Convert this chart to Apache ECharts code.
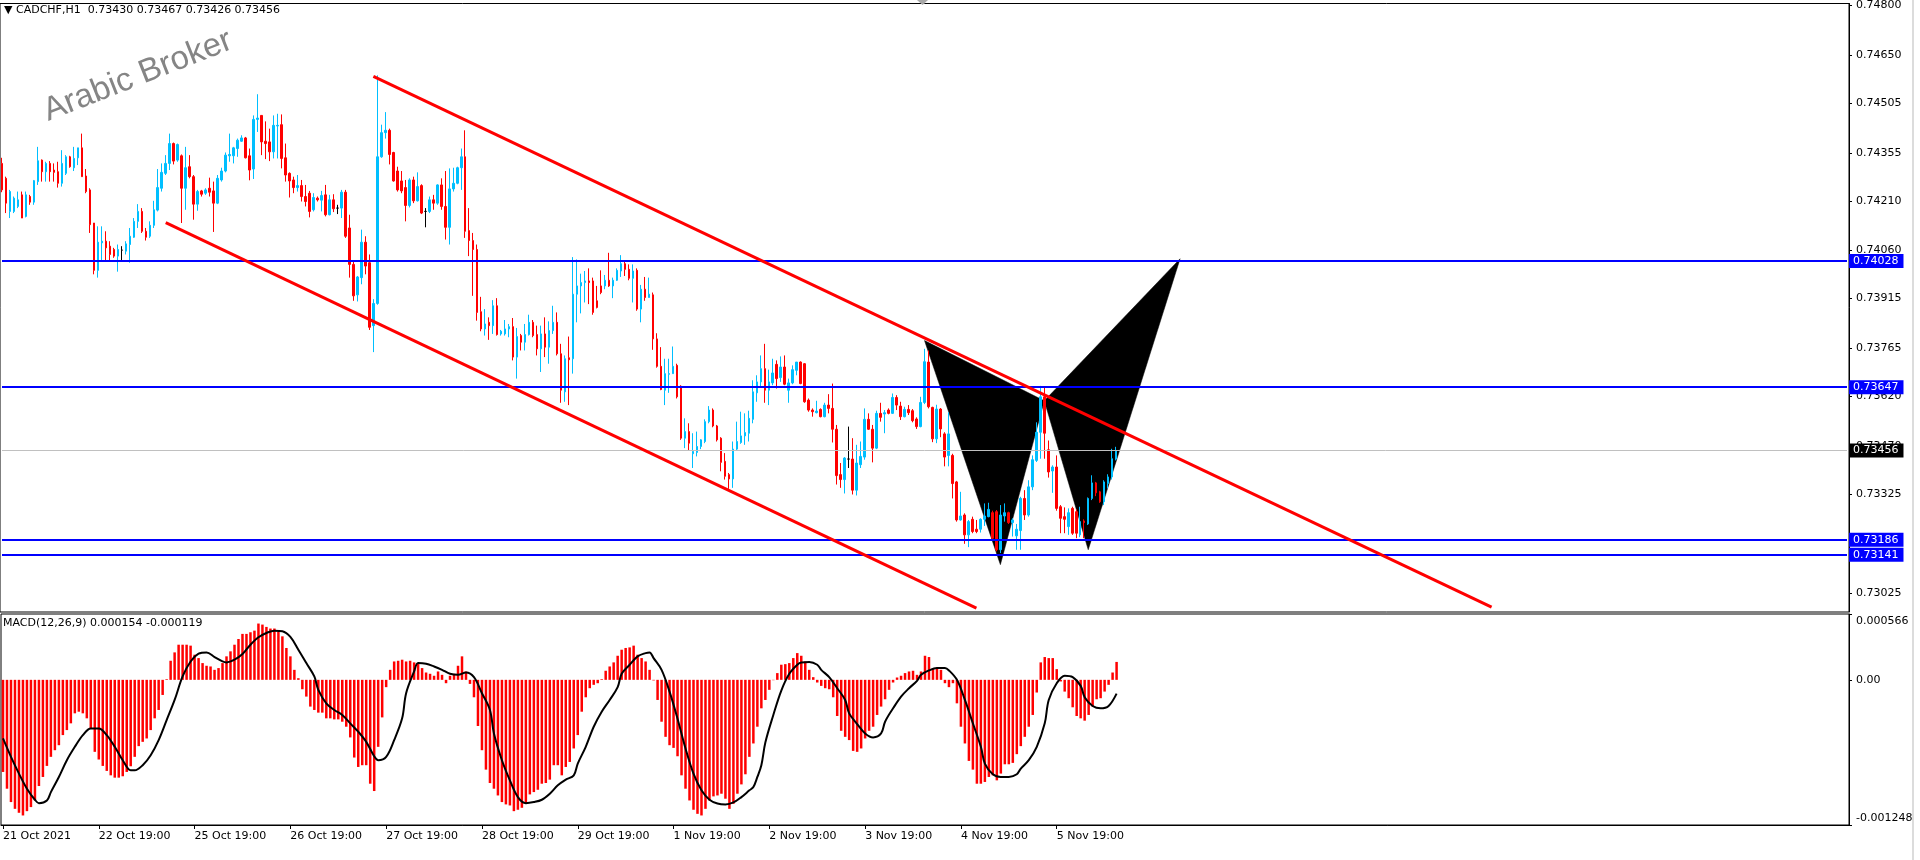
<!DOCTYPE html>
<html><head><meta charset="utf-8">
<script src="https://cdn.jsdelivr.net/npm/echarts@6/dist/echarts.min.js"></script>
<style>html,body{margin:0;padding:0;background:#fff;overflow:hidden}#c{width:1920px;height:860px}</style>
</head><body><div id="c"></div>
<script>
const symbol = 'CADCHF,H1';
const open = [
0.74323,0.74278,0.74178,0.74178,0.74193,0.74228,0.74163,0.74223,0.74206,0.74268,
0.74333,0.74298,0.74323,0.74303,0.74298,0.74263,0.74293,0.74343,0.74310,0.74340,
0.74370,0.74285,0.74243,0.74143,0.74000,0.74083,0.74088,0.74073,0.74063,0.74043,
0.74061,0.74058,0.74078,0.74100,0.74148,0.74178,0.74118,0.74103,0.74136,0.74182,
0.74248,0.74293,0.74323,0.74383,0.74333,0.74346,0.74248,0.74313,0.74283,0.74200,
0.74240,0.74233,0.74248,0.74240,0.74203,0.74273,0.74300,0.74346,0.74346,0.74368,
0.74390,0.74400,0.74346,0.74306,0.74456,0.74468,0.74390,0.74388,0.74358,0.74436,
0.74440,0.74340,0.74293,0.74273,0.74250,0.74256,0.74223,0.74233,0.74183,0.74218,
0.74212,0.74228,0.74168,0.74213,0.74188,0.74188,0.74236,0.74128,0.74018,0.73926,
0.73978,0.74085,0.74023,0.73833,0.73900,0.74343,0.74416,0.74423,0.74356,0.74300,
0.74270,0.74250,0.74196,0.74273,0.74210,0.74256,0.74178,0.74178,0.74213,0.74203,
0.74258,0.74193,0.74130,0.74246,0.74263,0.74310,0.74343,0.74120,0.74090,0.74063,
0.73875,0.73823,0.73843,0.73833,0.73893,0.73808,0.73808,0.73823,0.73830,0.73738,
0.73803,0.73783,0.73806,0.73843,0.73806,0.73763,0.73808,0.73768,0.73818,0.73843,
0.73748,0.73633,0.73736,0.73733,0.73928,0.73953,0.73963,0.73968,0.73968,0.73908,
0.73953,0.73953,0.73970,0.73953,0.73970,0.73998,0.74020,0.74003,0.73976,0.74000,
0.73883,0.73943,0.73918,0.73926,0.73793,0.73710,0.73638,0.73686,0.73688,0.73713,
0.73650,0.73493,0.73513,0.73446,0.73450,0.73468,0.73483,0.73543,0.73578,0.73530,
0.73493,0.73423,0.73383,0.73370,0.73460,0.73480,0.73500,0.73508,0.73550,0.73630,
0.73663,0.73703,0.73638,0.73660,0.73716,0.73676,0.73708,0.73638,0.73660,0.73698,
0.73723,0.73718,0.73608,0.73578,0.73570,0.73580,0.73558,0.73593,0.73583,0.73520,
0.73383,0.73368,0.73430,0.73430,0.73336,0.73413,0.73436,0.73550,0.73520,0.73463,
0.73568,0.73566,0.73578,0.73568,0.73616,0.73590,0.73558,0.73580,0.73576,0.73551,
0.73528,0.73601,0.73723,0.73586,0.73491,0.73581,0.73506,0.73441,0.73441,0.73361,
0.73246,0.73261,0.73201,0.73248,0.73218,0.73218,0.73248,0.73256,0.73268,0.73271,
0.73156,0.73258,0.73268,0.73238,0.73198,0.73214,0.73311,0.73261,0.73346,0.73426,
0.73511,0.73618,0.73458,0.73394,0.73406,0.73286,0.73256,0.73226,0.73281,0.73271,
0.73201,0.73243,0.73234,0.73311,0.73358,0.73331,0.73301,0.73356,0.73376,0.73430
];
const high = [
0.74340,0.74283,0.74243,0.74223,0.74238,0.74238,0.74238,0.74228,0.74273,0.74373,
0.74335,0.74328,0.74330,0.74323,0.74328,0.74363,0.74348,0.74346,0.74373,0.74370,
0.74413,0.74306,0.74248,0.74143,0.74133,0.74133,0.74118,0.74088,0.74068,0.74078,
0.74073,0.74088,0.74128,0.74158,0.74200,0.74188,0.74128,0.74148,0.74210,0.74306,
0.74323,0.74348,0.74413,0.74386,0.74383,0.74350,0.74373,0.74348,0.74288,0.74243,
0.74243,0.74248,0.74280,0.74268,0.74288,0.74310,0.74356,0.74413,0.74373,0.74398,
0.74408,0.74403,0.74368,0.74468,0.74532,0.74468,0.74450,0.74428,0.74468,0.74473,
0.74471,0.74383,0.74296,0.74283,0.74288,0.74273,0.74258,0.74240,0.74233,0.74223,
0.74240,0.74258,0.74228,0.74230,0.74198,0.74243,0.74243,0.74168,0.74028,0.73983,
0.74123,0.74103,0.74048,0.73913,0.74589,0.74440,0.74478,0.74428,0.74358,0.74313,
0.74300,0.74273,0.74278,0.74283,0.74296,0.74260,0.74188,0.74223,0.74228,0.74260,
0.74278,0.74300,0.74308,0.74310,0.74313,0.74368,0.74423,0.74188,0.74113,0.74078,
0.73920,0.73883,0.73858,0.73910,0.73916,0.73820,0.73850,0.73838,0.73856,0.73826,
0.73808,0.73838,0.73866,0.73850,0.73833,0.73833,0.73858,0.73846,0.73893,0.73873,
0.73778,0.73743,0.73800,0.74040,0.74033,0.73990,0.73998,0.74006,0.73978,0.73953,
0.74000,0.73986,0.74053,0.73978,0.74006,0.74046,0.74028,0.74018,0.74018,0.74006,
0.73956,0.73980,0.73978,0.73933,0.73810,0.73768,0.73733,0.73733,0.73770,0.73718,
0.73653,0.73553,0.73538,0.73508,0.73513,0.73490,0.73550,0.73590,0.73583,0.73533,
0.73496,0.73448,0.73388,0.73483,0.73543,0.73573,0.73568,0.73576,0.73668,0.73683,
0.73743,0.73778,0.73700,0.73733,0.73728,0.73740,0.73743,0.73673,0.73713,0.73723,
0.73725,0.73720,0.73613,0.73583,0.73606,0.73583,0.73600,0.73626,0.73658,0.73533,
0.73418,0.73436,0.73528,0.73493,0.73473,0.73483,0.73583,0.73568,0.73533,0.73576,
0.73600,0.73578,0.73583,0.73628,0.73623,0.73603,0.73588,0.73593,0.73581,0.73556,
0.73618,0.73763,0.73758,0.73588,0.73594,0.73584,0.73511,0.73571,0.73446,0.73364,
0.73331,0.73266,0.73246,0.73256,0.73246,0.73251,0.73296,0.73298,0.73274,0.73276,
0.73291,0.73296,0.73271,0.73251,0.73234,0.73316,0.73336,0.73366,0.73441,0.73541,
0.73651,0.73646,0.73486,0.73411,0.73441,0.73291,0.73284,0.73281,0.73286,0.73278,
0.73286,0.73248,0.73314,0.73381,0.73361,0.73334,0.73366,0.73384,0.73461,0.73467
];
const low = [
0.74236,0.74173,0.74158,0.74173,0.74188,0.74158,0.74160,0.74198,0.74198,0.74258,
0.74268,0.74268,0.74268,0.74268,0.74250,0.74253,0.74288,0.74310,0.74300,0.74318,
0.74283,0.74233,0.74113,0.73988,0.73978,0.74028,0.74028,0.74028,0.74038,0.73996,
0.74028,0.74048,0.74023,0.74098,0.74128,0.74113,0.74090,0.74098,0.74128,0.74178,
0.74238,0.74288,0.74303,0.74320,0.74328,0.74143,0.74183,0.74278,0.74153,0.74180,
0.74223,0.74228,0.74223,0.74116,0.74200,0.74268,0.74296,0.74328,0.74323,0.74343,
0.74388,0.74338,0.74272,0.74276,0.74418,0.74348,0.74336,0.74330,0.74338,0.74338,
0.74308,0.74268,0.74220,0.74233,0.74238,0.74208,0.74193,0.74160,0.74178,0.74208,
0.74178,0.74163,0.74166,0.74176,0.74170,0.74158,0.74098,0.73978,0.73908,0.73906,
0.73958,0.73988,0.73820,0.73753,0.73896,0.74340,0.74398,0.74320,0.74268,0.74238,
0.74233,0.74148,0.74190,0.74203,0.74208,0.74170,0.74130,0.74173,0.74183,0.74198,
0.74183,0.74093,0.74078,0.74238,0.74260,0.74243,0.74098,0.74043,0.73923,0.73848,
0.73816,0.73803,0.73790,0.73808,0.73803,0.73803,0.73803,0.73798,0.73728,0.73673,
0.73758,0.73758,0.73803,0.73798,0.73743,0.73693,0.73738,0.73718,0.73808,0.73743,
0.73600,0.73603,0.73593,0.73688,0.73843,0.73870,0.73903,0.73898,0.73866,0.73885,
0.73928,0.73943,0.73950,0.73916,0.73968,0.73980,0.73983,0.73970,0.73903,0.73878,
0.73843,0.73908,0.73918,0.73760,0.73706,0.73638,0.73593,0.73630,0.73688,0.73613,
0.73488,0.73463,0.73456,0.73403,0.73438,0.73460,0.73478,0.73538,0.73526,0.73483,
0.73393,0.73368,0.73340,0.73343,0.73456,0.73476,0.73473,0.73483,0.73538,0.73603,
0.73648,0.73600,0.73593,0.73653,0.73643,0.73663,0.73653,0.73600,0.73656,0.73683,
0.73656,0.73600,0.73573,0.73558,0.73568,0.73556,0.73556,0.73568,0.73480,0.73353,
0.73343,0.73326,0.73403,0.73323,0.73320,0.73403,0.73428,0.73518,0.73420,0.73460,
0.73543,0.73508,0.73565,0.73566,0.73578,0.73548,0.73556,0.73563,0.73541,0.73521,
0.73526,0.73596,0.73583,0.73481,0.73478,0.73496,0.73408,0.73408,0.73311,0.73241,
0.73244,0.73174,0.73164,0.73206,0.73206,0.73208,0.73228,0.73254,0.73186,0.73151,
0.73146,0.73241,0.73234,0.73196,0.73156,0.73156,0.73246,0.73256,0.73336,0.73421,
0.73431,0.73431,0.73374,0.73328,0.73274,0.73206,0.73206,0.73201,0.73201,0.73191,
0.73194,0.73191,0.73231,0.73306,0.73318,0.73298,0.73291,0.73341,0.73368,0.73426
];
const close = [
0.74243,0.74203,0.74238,0.74218,0.74213,0.74158,0.74228,0.74206,0.74271,0.74331,
0.74298,0.74323,0.74298,0.74296,0.74263,0.74323,0.74343,0.74313,0.74338,0.74370,
0.74283,0.74238,0.74138,0.74000,0.74085,0.74088,0.74068,0.74048,0.74043,0.74063,
0.74061,0.74080,0.74103,0.74148,0.74178,0.74118,0.74100,0.74136,0.74183,0.74250,
0.74296,0.74323,0.74383,0.74330,0.74380,0.74248,0.74310,0.74283,0.74200,0.74238,
0.74230,0.74243,0.74236,0.74203,0.74278,0.74300,0.74348,0.74350,0.74370,0.74393,
0.74400,0.74340,0.74303,0.74456,0.74460,0.74388,0.74383,0.74358,0.74438,0.74438,
0.74338,0.74288,0.74270,0.74250,0.74256,0.74223,0.74208,0.74178,0.74220,0.74213,
0.74226,0.74168,0.74213,0.74186,0.74188,0.74236,0.74103,0.74018,0.73923,0.73980,
0.74085,0.74013,0.73828,0.73900,0.74343,0.74416,0.74423,0.74350,0.74270,0.74243,
0.74240,0.74196,0.74273,0.74210,0.74253,0.74173,0.74178,0.74213,0.74203,0.74258,
0.74193,0.74130,0.74246,0.74263,0.74310,0.74343,0.74118,0.74090,0.74063,0.73873,
0.73823,0.73838,0.73833,0.73893,0.73806,0.73816,0.73823,0.73830,0.73738,0.73800,
0.73783,0.73806,0.73843,0.73803,0.73763,0.73808,0.73768,0.73818,0.73843,0.73748,
0.73638,0.73733,0.73730,0.73928,0.73953,0.73963,0.73968,0.73963,0.73873,0.73888,
0.73933,0.73970,0.73953,0.73970,0.74000,0.74020,0.74003,0.73976,0.73998,0.73883,
0.73943,0.73918,0.73928,0.73793,0.73710,0.73640,0.73688,0.73688,0.73710,0.73618,
0.73493,0.73513,0.73478,0.73453,0.73468,0.73488,0.73543,0.73578,0.73530,0.73488,
0.73420,0.73378,0.73370,0.73460,0.73483,0.73500,0.73510,0.73553,0.73633,0.73663,
0.73703,0.73638,0.73663,0.73690,0.73673,0.73708,0.73656,0.73660,0.73700,0.73723,
0.73658,0.73603,0.73578,0.73573,0.73575,0.73558,0.73593,0.73583,0.73520,0.73380,
0.73368,0.73433,0.73430,0.73336,0.73418,0.73438,0.73550,0.73520,0.73463,0.73568,
0.73556,0.73570,0.73568,0.73616,0.73593,0.73558,0.73580,0.73570,0.73546,0.73528,
0.73601,0.73724,0.73588,0.73491,0.73581,0.73521,0.73436,0.73506,0.73356,0.73246,
0.73258,0.73201,0.73241,0.73211,0.73211,0.73248,0.73258,0.73278,0.73191,0.73156,
0.73261,0.73268,0.73238,0.73246,0.73218,0.73311,0.73261,0.73346,0.73428,0.73511,
0.73618,0.73508,0.73391,0.73406,0.73281,0.73251,0.73248,0.73268,0.73206,0.73206,
0.73241,0.73238,0.73311,0.73358,0.73328,0.73301,0.73361,0.73376,0.73431,0.73456
];
const macd = [
-0.000792,-0.000936,-0.001051,-0.001109,-0.001143,-0.001166,-0.001129,-0.001094,-0.001037,-0.000913,
-0.000835,-0.000740,-0.000662,-0.000605,-0.000562,-0.000475,-0.000432,-0.000374,-0.000288,-0.000274,
-0.000288,-0.000331,-0.000418,-0.000619,-0.000685,-0.000740,-0.000783,-0.000821,-0.000841,-0.000841,
-0.000829,-0.000792,-0.000743,-0.000662,-0.000570,-0.000533,-0.000504,-0.000432,-0.000331,-0.000259,
-0.000130,0.000006,0.000164,0.000236,0.000302,0.000302,0.000302,0.000294,0.000216,0.000187,
0.000144,0.000121,0.000115,0.000086,0.000101,0.000144,0.000202,0.000245,0.000302,0.000351,
0.000395,0.000395,0.000409,0.000423,0.000484,0.000475,0.000455,0.000441,0.000441,0.000412,
0.000374,0.000274,0.000202,0.000086,0.000014,-0.000081,-0.000144,-0.000230,-0.000259,-0.000282,
-0.000282,-0.000331,-0.000331,-0.000340,-0.000340,-0.000360,-0.000403,-0.000495,-0.000668,-0.000749,
-0.000734,-0.000734,-0.000893,-0.000956,-0.000576,-0.000323,-0.000063,0.000086,0.000158,0.000164,
0.000173,0.000158,0.000164,0.000150,0.000144,0.000101,0.000063,0.000052,0.000035,0.000072,
0.000043,-0.000029,0.000035,0.000052,0.000121,0.000202,0.000072,-0.000035,-0.000150,-0.000397,
-0.000605,-0.000772,-0.000887,-0.000936,-0.000994,-0.001051,-0.001071,-0.001080,-0.001129,-0.001117,
-0.001100,-0.001060,-0.000985,-0.000965,-0.000945,-0.000893,-0.000887,-0.000858,-0.000734,-0.000734,
-0.000821,-0.000749,-0.000706,-0.000590,-0.000475,-0.000274,-0.000150,-0.000072,-0.000043,-0.000029,
0.000006,0.000078,0.000115,0.000150,0.000207,0.000259,0.000274,0.000279,0.000294,0.000216,
0.000187,0.000158,0.000086,-0.000005,-0.000173,-0.000360,-0.000490,-0.000562,-0.000585,-0.000657,
-0.000821,-0.000936,-0.001037,-0.001117,-0.001152,-0.001166,-0.001109,-0.001037,-0.001002,-0.000994,
-0.000979,-0.001022,-0.001109,-0.001066,-0.000979,-0.000899,-0.000812,-0.000662,-0.000547,-0.000403,
-0.000245,-0.000173,-0.000086,-0.000003,0.000058,0.000130,0.000135,0.000144,0.000187,0.000230,
0.000207,0.000158,0.000086,0.000023,-0.000023,-0.000052,-0.000072,-0.000081,-0.000150,-0.000311,
-0.000438,-0.000490,-0.000518,-0.000611,-0.000619,-0.000590,-0.000504,-0.000438,-0.000403,-0.000302,
-0.000230,-0.000167,-0.000086,-0.000023,0.000020,0.000035,0.000058,0.000072,0.000078,0.000043,
0.000072,0.000207,0.000196,0.000101,0.000101,0.000086,-0.000029,-0.000063,-0.000029,-0.000202,
-0.000403,-0.000547,-0.000697,-0.000772,-0.000893,-0.000893,-0.000878,-0.000835,-0.000821,-0.000864,
-0.000806,-0.000726,-0.000726,-0.000714,-0.000639,-0.000570,-0.000490,-0.000403,-0.000302,-0.000109,
0.000150,0.000196,0.000187,0.000187,0.000092,-0.000014,-0.000101,-0.000158,-0.000236,-0.000311,
-0.000331,-0.000351,-0.000302,-0.000230,-0.000167,-0.000158,-0.000101,-0.000043,0.000063,0.000154
];
const signal = [
[0,-0.000504],[2,-0.000662],[4,-0.000806],[6,-0.000936],[8,-0.001031],[9,-0.00106],[11,-0.001037],[12,-0.000965],[14,-0.000835],[16,-0.000691],[18,-0.000576],[20,-0.000475],[22,-0.000418],[24,-0.000418],[26,-0.000475],[28,-0.000576],[30,-0.000691],[32,-0.000778],[33,-0.000778],[35,-0.000734],[37,-0.000648],[39,-0.000518],[41,-0.000346],[43,-0.000173],[45,0.000029],[47,0.000158],[49,0.000225],[51,0.000236],[53,0.000196],[55,0.000158],[56,0.00015],[58,0.000173],[60,0.000222],[62,0.000302],[64,0.000366],[66,0.000403],[68,0.000423],[70,0.000418],[72,0.000369],[74,0.000259],[76,0.000144],[78,0.000029],[79,-0.000086],[81,-0.000202],[83,-0.000259],[85,-0.000302],[87,-0.000374],[89,-0.000446],[91,-0.000533],[93,-0.000657],[94,-0.000691],[96,-0.000662],[98,-0.000518],[100,-0.000331],[101,-0.000115],[103,0.000072],[104,0.000144],[106,0.000138],[108,0.000115],[110,0.000086],[112,0.000052],[114,0.000043],[116,0.000063],[118,0.000023],[120,-0.000115],[122,-0.000259],[123,-0.000461],[125,-0.000691],[127,-0.000864],[129,-0.001008],[131,-0.00106],[133,-0.001051],[135,-0.001031],[137,-0.000979],[139,-0.000907],[141,-0.000858],[143,-0.000821],[144,-0.00072],[146,-0.000576],[148,-0.000403],[150,-0.000274],[152,-0.000173],[154,-0.000063],[155,0.000052],[157,0.00013],[159,0.000202],[161,0.00023],[162,0.000236],[163,0.000187],[165,0.000086],[167,-0.000101],[169,-0.000334],[171,-0.00059],[173,-0.000806],[175,-0.00095],[177,-0.001031],[179,-0.001063],[181,-0.001071],[183,-0.001054],[185,-0.001008],[187,-0.00095],[188,-0.000922],[189,-0.000835],[190,-0.000734],[191,-0.000539],[193,-0.000302],[195,-0.000092],[197,0.000052],[199,0.00013],[200,0.00015],[202,0.000153],[204,0.00013],[205,0.000086],[207,0.000023],[209,-0.000072],[211,-0.000173],[212,-0.000288],[214,-0.00038],[216,-0.000461],[218,-0.000495],[220,-0.000461],[221,-0.00036],[223,-0.000245],[225,-0.000144],[227,-0.000072],[229,-0.000009],[230,0.000043],[232,0.000081],[234,0.000101],[236,0.000101],[237,0.000081],[239,0],[241,-0.000173],[243,-0.000374],[245,-0.000576],[246,-0.00072],[248,-0.000812],[250,-0.000835],[252,-0.000835],[254,-0.000812],[255,-0.000763],[257,-0.000691],[259,-0.000576],[261,-0.000374],[262,-0.000173],[264,-0.000029],[266,0.000035],[268,0.000023],[270,-0.000052],[271,-0.00015],[273,-0.000225],[275,-0.000245],[277,-0.000225],[279,-0.000119]
];
const timeTicks = [[0,'21 Oct 2021'],[24,'22 Oct 19:00'],[48,'25 Oct 19:00'],[72,'26 Oct 19:00'],[96,'27 Oct 19:00'],[120,'28 Oct 19:00'],[144,'29 Oct 19:00'],[168,'1 Nov 19:00'],[192,'2 Nov 19:00'],[216,'3 Nov 19:00'],[240,'4 Nov 19:00'],[264,'5 Nov 19:00']];
const priceTicks = [0.74800,0.74650,0.74505,0.74355,0.74210,0.74060,0.73915,0.73765,0.73620,0.73470,0.73325,0.73175,0.73025];
const macdTicks = [0.000566, 0, -0.001248];
const levels = [0.74028, 0.73647, 0.73186, 0.73141];
const bid = 0.73456;
const channelUpper = [[93, 0.74586], [373, 0.72983]];
const channelLower = [[41, 0.74144], [244, 0.72980]];
const pattern = [
  [[231, 0.73788], [250, 0.73111], [261, 0.73606]],
  [[261, 0.73606], [272, 0.73156], [295, 0.74035]]
];
const priceRange = [0.72968, 0.74806];
const macdRange = [-0.001248, 0.000566];
const slots = 463;

const FONT = 'DejaVu Sans';
const n = open.length;
const cats = Array.from({length: slots}, (_, i) => String(i));
const tickMap = {};
timeTicks.forEach(([i, t]) => { tickMap[i] = t; });
const isTick = (idx) => tickMap[idx] !== undefined;
const candles = open.map((o, i) => [o, close[i], low[i], high[i]]);
const header = '\u25BC ' + symbol + '  ' + open[n-1].toFixed(5) + ' ' + high[n-1].toFixed(5) + ' ' + low[n-1].toFixed(5) + ' ' + close[n-1].toFixed(5);
const macdLabel = 'MACD(12,26,9) ' + macd[n-1].toFixed(6) + ' ' + signal[signal.length-1][1].toFixed(6);

const lvlLabel = (v, bg) => ({
  show: true, position: 'end', distance: 2, formatter: v.toFixed(5),
  backgroundColor: bg, color: '#fff', fontFamily: FONT, fontSize: 11,
  padding: [1, 5, 1, 4], lineHeight: 12
});
// horizontal lines as two-point segments spanning the whole category range
const hLine = (v, color, width, bg) => [
  {coord: [0, v], lineStyle: {color: color, width: width, type: 'solid'}, label: lvlLabel(v, bg)},
  {coord: [slots - 1, v]}
];

const chart = echarts.init(document.getElementById('c'), null, {renderer: 'canvas'});
chart.setOption({
  animation: false,
  backgroundColor: '#ffffff',
  title: [
    {text: header, left: 4, top: 5, padding: 0, textStyle: {fontSize: 11, fontWeight: 'normal', color: '#000', fontFamily: FONT}},
    {text: macdLabel, left: 3, top: 618, padding: 0, textStyle: {fontSize: 11, fontWeight: 'normal', color: '#000', fontFamily: FONT}}
  ],
  grid: [
    {left: -1.7, right: 71, top: 1, height: 611, show: true, borderColor: '#000', borderWidth: 1, backgroundColor: 'transparent'},
    {left: -1.7, right: 71, top: 614, height: 211, show: true, borderColor: '#000', borderWidth: 1, backgroundColor: 'transparent'}
  ],
  xAxis: [
    {type: 'category', gridIndex: 0, data: cats, boundaryGap: true,
     axisLine: {show: false, onZero: false}, axisTick: {show: false}, axisLabel: {show: false}, splitLine: {show: false}},
    {type: 'category', gridIndex: 1, data: cats, boundaryGap: true,
     axisLine: {show: true, onZero: false, lineStyle: {color: '#000', width: 1}},
     axisTick: {show: true, alignWithLabel: true, length: 4, interval: (i) => isTick(i), lineStyle: {color: '#000'}},
     axisLabel: {show: true, interval: (i) => isTick(i), formatter: (v) => tickMap[v] || '', align: 'left', margin: 6,
                 color: '#000', fontFamily: FONT, fontSize: 11},
     splitLine: {show: false}}
  ],
  yAxis: [
    {type: 'value', gridIndex: 0, position: 'right', min: priceRange[0], max: priceRange[1],
     splitLine: {show: false},
     axisLine: {show: true, lineStyle: {color: '#000'}},
     axisTick: {show: true, length: 3, customValues: priceTicks, lineStyle: {color: '#000'}},
     axisLabel: {show: true, customValues: priceTicks, formatter: (v) => v.toFixed(5), margin: 7,
                 color: '#000', fontFamily: FONT, fontSize: 11}},
    {type: 'value', gridIndex: 1, position: 'right', min: macdRange[0], max: macdRange[1],
     splitLine: {show: false},
     axisLine: {show: true, lineStyle: {color: '#000'}},
     axisTick: {show: true, length: 3, customValues: macdTicks, lineStyle: {color: '#000'}},
     axisLabel: {show: true, customValues: macdTicks, margin: 7, color: '#000', fontFamily: FONT, fontSize: 11,
                 formatter: (v) => v === 0 ? '0.00' : (v > 0 ? '{t|' + v.toFixed(6) + '}' : '{b|' + v.toFixed(6) + '}'),
                 rich: {t: {padding: [15, 0, 0, 0], fontFamily: FONT, fontSize: 11, color: '#000'},
                        b: {padding: [0, 0, 13, 0], fontFamily: FONT, fontSize: 11, color: '#000'}}}}
  ],
  series: [
    {type: 'custom', name: 'pattern', xAxisIndex: 0, yAxisIndex: 0, z: 1, silent: true,
     data: pattern.map((t, i) => [t[0][0], t[0][1], i]),
     renderItem: (params, api) => {
       const tri = pattern[api.value(2)];
       return {type: 'polygon', shape: {points: tri.map(p => api.coord(p))}, style: {fill: '#000', stroke: '#000', lineWidth: 0.5}};
     }},
    {type: 'candlestick', name: symbol, xAxisIndex: 0, yAxisIndex: 0, z: 3, silent: true,
     data: candles, barWidth: 2,
     itemStyle: {color: '#00bfff', color0: '#ff0000', borderColor: '#00bfff', borderColor0: '#ff0000', borderColorDoji: '#000000', borderWidth: 1}},
    {type: 'line', name: 'objects', xAxisIndex: 0, yAxisIndex: 0, z: 4, silent: true,
     data: [], showSymbol: false,
     markLine: {
       silent: true, symbol: ['none', 'none'], animation: false, precision: 5,
       data: [
         hLine(bid, '#c0c0c0', 1, '#000000'),
         ...levels.map(v => hLine(v, '#0000ff', 2, '#0000ff')),
         [{coord: channelUpper[0], lineStyle: {color: '#ff0000', width: 3, type: 'solid'}, label: {show: false}},
          {coord: channelUpper[1]}],
         [{coord: channelLower[0], lineStyle: {color: '#ff0000', width: 3, type: 'solid'}, label: {show: false}},
          {coord: channelLower[1]}]
       ]
     }},
    {type: 'bar', name: 'MACD', xAxisIndex: 1, yAxisIndex: 1, data: macd, barWidth: 2.5, silent: true,
     itemStyle: {color: '#ff0000'}},
    {type: 'line', name: 'Signal', xAxisIndex: 1, yAxisIndex: 1, data: signal, smooth: 0.35, showSymbol: false, silent: true,
     lineStyle: {color: '#000000', width: 2}, z: 4}
  ],
  graphic: [
    {type: 'text', x: 51, y: 128, rotation: 0.375, silent: true, z: 0,
     style: {text: 'Arabic Broker', font: '33px "Liberation Sans"', fill: '#858585', textAlign: 'left', textVerticalAlign: 'bottom', verticalAlign: 'bottom'}},
    {type: 'polygon', silent: true, shape: {points: [[917, 0], [928, 0], [922.5, 5]]}, style: {fill: '#a8a8a8'}},
    {type: 'rect', silent: true, shape: {x: 1912, y: 0, width: 2, height: 860}, style: {fill: '#dcdcdc'}}
  ]
});
</script>
</body></html>
